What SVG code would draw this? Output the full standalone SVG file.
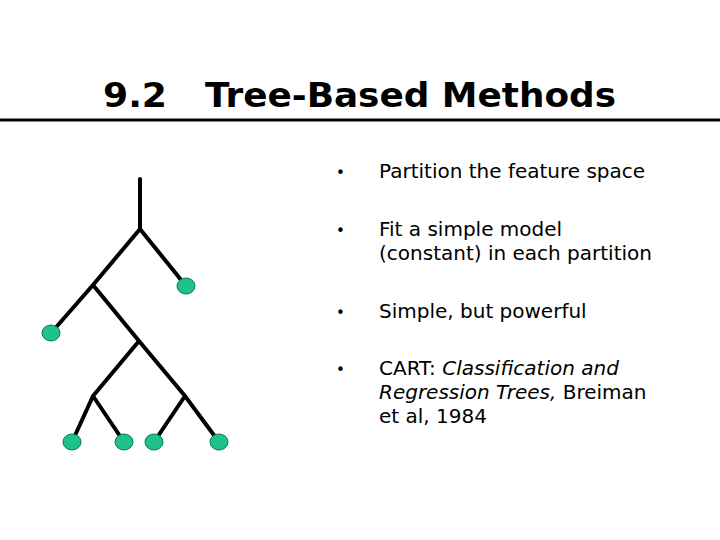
<svg xmlns="http://www.w3.org/2000/svg" width="720" height="540" viewBox="0 0 720 540">
<style>
.t{font-family:"DejaVu Sans",Verdana,sans-serif;fill:#000}
.b{font-size:20px}
.e{stroke:#000;stroke-width:4;fill:none;stroke-linecap:round}
.leaf{fill:#1ec28c;stroke:#0a7a55;stroke-width:1}
</style>
<rect width="720" height="540" fill="#fff"/>
<text class="t" x="103" y="107" font-size="34" font-weight="bold" textLength="64" lengthAdjust="spacingAndGlyphs">9.2</text>
<text class="t" x="205" y="107" font-size="34" font-weight="bold" textLength="411" lengthAdjust="spacingAndGlyphs">Tree-Based Methods</text>
<line x1="0" y1="120" x2="720" y2="120" stroke="#000" stroke-width="3"/>
<g id="connectors">
<path class="e" d="M140,179 V229 L186,286 M140,229 L93,285 L51,333 M93,285 L139,341 L93,396 L72,442 M93,396 L124,442 M139,341 L185,396 L219,442 M185,396 L154,442"/>
</g>
<g id="leaf1"><ellipse class="leaf" cx="186" cy="286" rx="9" ry="8"/></g>
<g id="leaf2"><ellipse class="leaf" cx="51" cy="333" rx="9" ry="8"/></g>
<g id="leaf3"><ellipse class="leaf" cx="72" cy="442" rx="9" ry="8"/></g>
<g id="leaf4"><ellipse class="leaf" cx="124" cy="442" rx="9" ry="8"/></g>
<g id="leaf5"><ellipse class="leaf" cx="154" cy="442" rx="9" ry="8"/></g>
<g id="leaf6"><ellipse class="leaf" cx="219" cy="442" rx="9" ry="8"/></g>
<g id="bullets" class="t b">
<text x="336" y="178" font-size="15">•</text><text x="379" y="178">Partition the feature space</text>
<text x="336" y="236" font-size="15">•</text><text x="379" y="236">Fit a simple model</text>
<text x="379" y="260">(constant) in each partition</text>
<text x="336" y="318" font-size="15">•</text><text x="379" y="318">Simple, but powerful</text>
<text x="336" y="375" font-size="15">•</text><text x="379" y="375">CART: <tspan font-style="italic">Classification and</tspan></text>
<text x="379" y="399"><tspan font-style="italic">Regression Trees,</tspan> Breiman</text>
<text x="379" y="423">et al, 1984</text>
</g>
</svg>
